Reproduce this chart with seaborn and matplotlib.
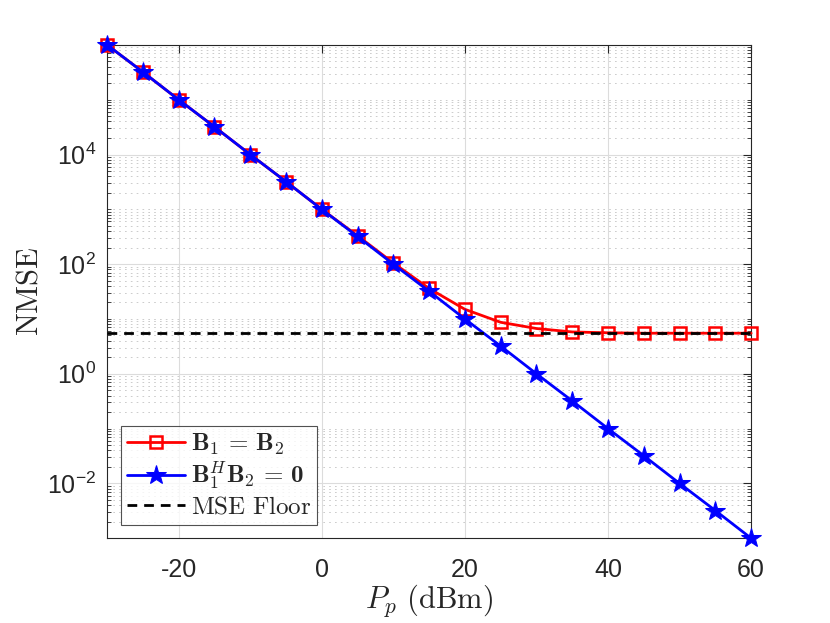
import numpy as np
import pandas as pd
import matplotlib
matplotlib.use("Agg")
import matplotlib.pyplot as plt
import matplotlib.ticker as mticker
import seaborn as sns

# ---- data ----
pp_dbm = [-30, -25, -20, -15, -10, -5, 0, 5, 10, 15, 20, 25, 30, 35, 40, 45, 50, 55, 60]
nmse_same = [1.0e6, 3.2e5, 1.0e5, 3.2e4, 1.0e4, 3.2e3, 1.0e3, 3.3e2, 1.05e2, 36, 15, 8.7, 6.7, 5.8, 5.6, 5.5, 5.5, 5.5, 5.5]
nmse_orth = [1.0e6, 3.2e5, 1.0e5, 3.2e4, 1.0e4, 3.2e3, 1.0e3, 3.2e2, 1.0e2, 32, 10, 3.2, 1.0, 0.32, 0.1, 0.032, 0.01, 0.0032, 0.001]
floor_x = [-30, 60]
floor_y = [5.45, 5.45]
x_ticks = [-20, 0, 20, 40, 60]
x_ticklabels = ["-20", "0", "20", "40", "60"]
y_ticks = [1e-2, 1e0, 1e2, 1e4]
y_ticklabels = [r"$\mathregular{10^{-2}}$", r"$\mathregular{10^{0}}$", r"$\mathregular{10^{2}}$", r"$\mathregular{10^{4}}$"]
labels = [r"$\mathbf{B}_1\,=\,\mathbf{B}_2$", r"$\mathbf{B}_1^H\mathbf{B}_2\,=\,\mathbf{0}$", r"$\mathrm{MSE\ Floor}$"]

sns.set_style("white")
plt.rcParams["font.family"] = ["Liberation Sans", "DejaVu Sans"]
plt.rcParams["mathtext.fontset"] = "custom"
plt.rcParams["mathtext.rm"] = "cmr10"
plt.rcParams["mathtext.it"] = "cmmi10"
plt.rcParams["mathtext.bf"] = "cmb10"
plt.rcParams["axes.formatter.use_mathtext"] = True

fig = plt.figure(figsize=(8.3, 6.23), dpi=100)
ax = fig.add_axes([0.129, 0.136, 0.776, 0.792])

df1 = pd.DataFrame({"x": pp_dbm, "y": nmse_same})
df2 = pd.DataFrame({"x": pp_dbm, "y": nmse_orth})
df3 = pd.DataFrame({"x": floor_x, "y": floor_y})

sns.lineplot(data=df1, x="x", y="y", ax=ax, color=(1, 0, 0), lw=2, marker="s",
             markersize=8, markerfacecolor="none", markeredgecolor=(1, 0, 0),
             markeredgewidth=1.8, label=labels[0], zorder=3, clip_on=False)
sns.lineplot(data=df2, x="x", y="y", ax=ax, color=(0, 0, 1), lw=2, marker="*",
             markersize=15, markerfacecolor=(0, 0, 1), markeredgecolor=(0, 0, 1),
             label=labels[1], zorder=4, clip_on=False)
sns.lineplot(data=df3, x="x", y="y", ax=ax, color="black", lw=2, linestyle=(0, (3.5, 2.5)),
             label=labels[2], zorder=5)

ax.set_yscale("log")
ax.set_xlim(-30, 60)
ax.set_ylim(1e-3, 1e6)

ax.set_xticks(x_ticks)
ax.set_xticklabels(x_ticklabels)
ax.yaxis.set_major_locator(mticker.FixedLocator(y_ticks))
ax.set_yticklabels(y_ticklabels)
ax.yaxis.set_minor_locator(mticker.LogLocator(base=10, subs=np.arange(1, 10), numticks=30))
ax.yaxis.set_minor_formatter(mticker.NullFormatter())

ax.tick_params(axis="both", which="major", direction="in", length=6, width=0.8,
               top=True, right=True, labelsize=18, colors="#262626")
ax.tick_params(axis="x", which="major", pad=14)
ax.tick_params(axis="y", which="major", pad=8)
ax.tick_params(axis="y", which="minor", direction="in", length=3, width=0.6,
               left=True, right=True)

ax.grid(True, which="major", color="#dcdcdc", lw=0.8, ls="-")
ax.grid(True, which="minor", axis="y", color="#c4c4c4", lw=0.6, ls=(0, (2, 5)))
ax.set_axisbelow(True)

for s in ax.spines.values():
    s.set_color("#262626")
    s.set_linewidth(0.8)
    s.set_visible(True)

ax.set_xlabel(r"$P_p\ \mathrm{(dBm)}$", fontsize=22, labelpad=0)
ax.set_ylabel(r"$\mathrm{NMSE}$", fontsize=22, labelpad=2)

leg = ax.legend(loc="lower left", fontsize=18, frameon=True, fancybox=False,
                edgecolor="#262626", borderaxespad=0.55, handlelength=2.3,
                handletextpad=0.25, labelspacing=0.1, borderpad=0.25)
leg.get_frame().set_linewidth(0.8)

fig.savefig("out.png", dpi=100, facecolor="white")
